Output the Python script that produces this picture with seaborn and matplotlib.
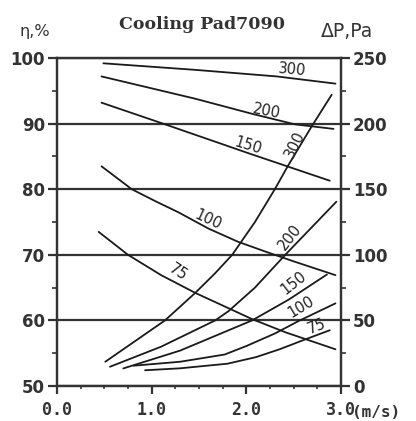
import pandas as pd
import seaborn as sns
import matplotlib.pyplot as plt
from matplotlib.ticker import MultipleLocator

# Efficiency curves (eta, %) per pad thickness
eta300_v = [0.49, 1.46, 2.32, 2.94]
eta300 = [99.2, 98.2, 97.2, 96.1]
eta200_v = [0.47, 1.46, 2.06, 2.51, 2.92]
eta200 = [97.2, 93.8, 91.5, 89.9, 89.2]
eta150_v = [0.47, 1.14, 2.02, 2.88]
eta150 = [93.2, 89.9, 85.5, 81.3]
eta100_v = [0.47, 0.79, 1.05, 1.28, 1.60, 1.91, 2.20, 2.50, 2.94]
eta100 = [83.5, 80.0, 78.1, 76.5, 74.0, 72.0, 70.5, 69.0, 66.9]
eta75_v = [0.44, 0.75, 1.10, 1.46, 2.06, 2.41, 2.94]
eta75 = [73.5, 70.0, 66.9, 64.2, 60.2, 58.2, 55.6]

# Pressure drop curves (dP, Pa)
dp300_v = [0.51, 0.82, 1.14, 1.46, 1.67, 1.85, 2.09, 2.30, 2.44, 2.69, 2.90]
dp300 = [18.5, 34, 50, 71, 86, 100, 125, 150, 168, 198, 222]
dp200_v = [0.56, 1.10, 1.67, 1.81, 2.09, 2.41, 2.69, 2.95]
dp200 = [14.7, 30, 50, 57, 75, 100, 121, 140.5]
dp150_v = [0.70, 1.30, 2.06, 2.45, 2.85]
dp150 = [13.4, 27, 50, 66, 85]
dp100_v = [0.81, 1.30, 1.77, 2.00, 2.30, 2.55, 2.94]
dp100 = [15.5, 18.5, 24, 30.5, 40, 49.5, 63]
dp75_v = [0.93, 1.30, 1.80, 2.10, 2.35, 2.62, 2.88]
dp75 = [12, 13.5, 17, 22, 28, 35.5, 42.5]

x_ticks = [0, 1, 2, 3]
x_ticklabels = ["0.0", "1.0", "2.0", "3.0"]

sns.set_theme(style="white")
plt.rcParams["font.family"] = ["DejaVu Sans"]

LINE = "#333333"
CURVE = "#1a1a1a"

fig = plt.figure(figsize=(4.16, 4.21), dpi=100)
ax = fig.add_axes([0.137, 0.0831, 0.683, 0.779])
ax2 = ax.twinx()

eta_curves = [(eta300_v, eta300), (eta200_v, eta200), (eta150_v, eta150),
              (eta100_v, eta100), (eta75_v, eta75)]
dp_curves = [(dp300_v, dp300), (dp200_v, dp200), (dp150_v, dp150),
             (dp100_v, dp100), (dp75_v, dp75)]

for v, y in eta_curves:
    sns.lineplot(x=v, y=y, ax=ax, color=CURVE, lw=1.3, sort=False, estimator=None)
for v, y in dp_curves:
    sns.lineplot(x=v, y=y, ax=ax2, color=CURVE, lw=1.3, sort=False, estimator=None)

ax.set_xlim(0, 3)
ax.set_ylim(50, 100)
ax2.set_ylim(0, 250)

ax.set_xticks(x_ticks)
ax.set_xticklabels(x_ticklabels, family="DejaVu Sans Mono", fontweight="bold",
                   fontsize=12, color="#333")
ax.xaxis.set_minor_locator(MultipleLocator(0.25))
ax.yaxis.set_major_locator(MultipleLocator(10))
ax.yaxis.set_minor_locator(MultipleLocator(5))
ax2.yaxis.set_major_locator(MultipleLocator(50))
ax2.yaxis.set_minor_locator(MultipleLocator(25))

ax.grid(False)
ax2.grid(False)
ax.yaxis.grid(True, which="major", color=LINE, lw=1.6)

for a in (ax, ax2):
    for s in a.spines.values():
        s.set_color(LINE)
        s.set_linewidth(1.6)

ax.tick_params(axis="y", which="major", direction="out", length=6.5, width=1.6,
               color=LINE, pad=2, labelsize=12, labelcolor="#333", left=True)
ax.tick_params(axis="y", which="minor", direction="out", length=3.5, width=1.2,
               color=LINE, left=True)
ax2.tick_params(axis="y", which="major", direction="out", length=6.5, width=1.6,
                color=LINE, pad=2, labelsize=12, labelcolor="#333", right=True)
ax2.tick_params(axis="y", which="minor", direction="out", length=3.5, width=1.2,
                color=LINE, right=True)
ax.tick_params(axis="x", which="major", direction="out", length=6, width=1.6,
               color=LINE, pad=5, bottom=True)
ax.tick_params(axis="x", which="minor", direction="out", length=2.5, width=1.2,
               color=LINE, bottom=True)
for lab in ax.get_yticklabels() + ax2.get_yticklabels():
    lab.set_fontweight("bold")

ax.set_xlabel("")
ax.set_ylabel("")
ax2.set_ylabel("")

# curve labels (thickness, mm)
lab_kw = dict(fontsize=10.5, color="#222", ha="center", va="center",
              rotation_mode="anchor")
for txt, x, y, rot in [("300", 2.48, 98.2, -5), ("200", 2.21, 91.9, -11),
                       ("150", 2.02, 86.7, -17), ("100", 1.60, 75.3, -25),
                       ("75", 1.28, 67.4, -33)]:
    ax.text(x, y, txt, rotation=rot, **lab_kw)
for txt, x, y, rot in [("300", 2.51, 184, 64), ("200", 2.46, 113.8, 52),
                       ("150", 2.50, 78.3, 38), ("100", 2.58, 60.5, 31),
                       ("75", 2.74, 45.2, 22)]:
    ax2.text(x, y, txt, rotation=rot, **lab_kw)

fig.text(0.485, 0.942, "Cooling Pad7090", ha="center", va="center",
         family="DejaVu Serif", fontweight="bold", fontsize=12.5, color="#333")
fig.text(0.083, 0.926, "η,%", ha="center", va="center", fontsize=11.5, color="#333")
fig.text(0.835, 0.926, "ΔP,Pa", ha="center", va="center", fontsize=13.5, color="#333")
ax.text(1.04, -0.08, "(m/s)", transform=ax.transAxes, ha="left", va="center",
        family="DejaVu Sans Mono", fontweight="bold", fontsize=11.5, color="#333")

fig.savefig("out.png", dpi=100)
